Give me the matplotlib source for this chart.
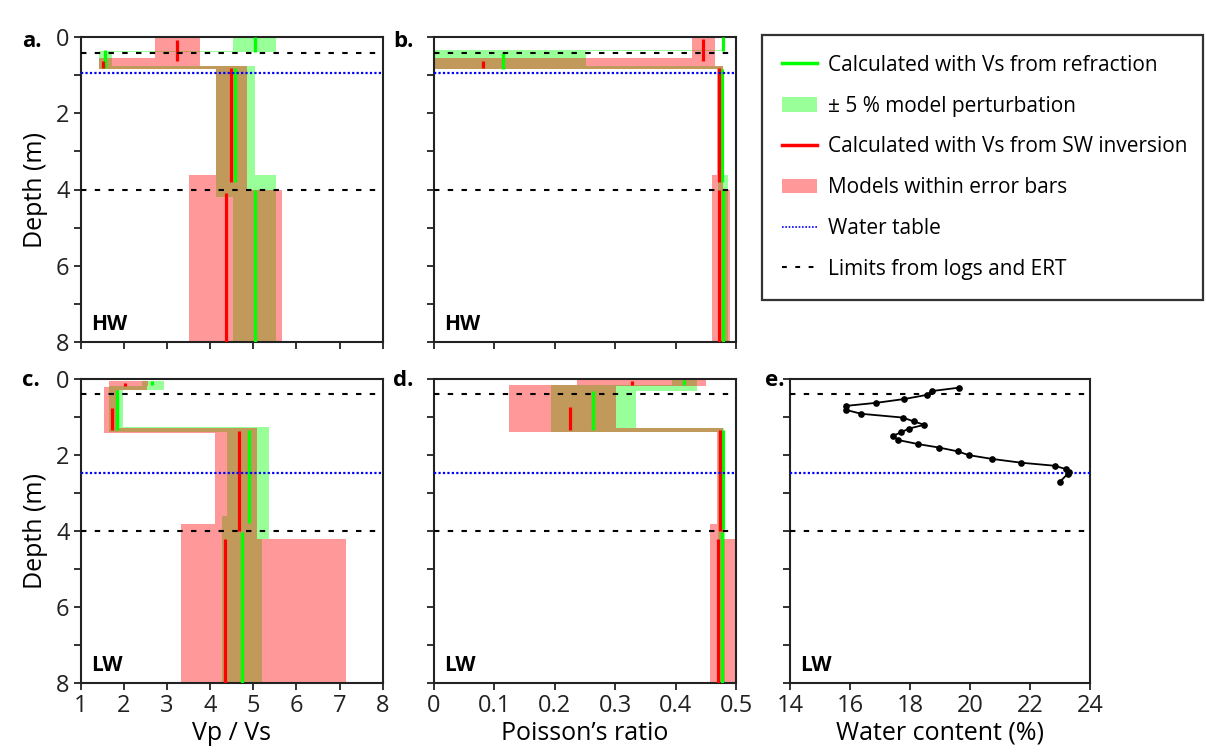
import matplotlib
matplotlib.use("Agg")
import matplotlib.pyplot as plt
from matplotlib.lines import Line2D
from matplotlib.patches import Patch

plt.rcParams['font.family'] = ['Open Sans', 'DejaVu Sans']

GREEN = '#00ff00'
RED = '#ff0000'

# ---------------- data ----------------
# bands: (top depth, bottom depth, min value, max value)
a_green_band = [(0.0, 0.36, 4.54, 5.53), (0.36, 0.38, 1.43, 5.53), (0.38, 0.75, 1.43, 1.72),
                (0.75, 0.84, 1.43, 5.03), (0.84, 3.62, 4.13, 5.03), (3.62, 4.19, 4.13, 5.53),
                (4.19, 8.0, 4.54, 5.53)]
a_red_band = [(0.0, 0.54, 2.72, 3.77), (0.54, 0.75, 1.42, 3.77), (0.75, 0.84, 1.42, 4.85),
              (0.84, 3.62, 4.13, 4.85), (3.62, 4.0, 3.52, 4.85), (4.0, 8.0, 3.52, 5.66)]
# lines: (value, top depth, bottom depth)
a_green_lines = [(5.03, 0.0, 0.38), (1.57, 0.34, 0.80), (4.58, 0.81, 3.81), (5.03, 4.0, 8.0)]
a_red_lines = [(3.23, 0.07, 0.61), (1.52, 0.62, 0.80), (4.49, 0.815, 3.81), (4.36, 4.08, 8.0)]

b_green_band = [(0.33, 0.36, 0.0, 0.48), (0.36, 0.76, 0.0, 0.251), (0.76, 0.84, 0.0, 0.478),
                (0.84, 3.62, 0.470, 0.480), (3.62, 4.19, 0.470, 0.486), (4.19, 8.0, 0.475, 0.486)]
b_red_band = [(0.0, 0.54, 0.4266, 0.465), (0.54, 0.76, 0.0, 0.465), (0.76, 0.84, 0.0, 0.478),
              (0.84, 3.62, 0.469, 0.478), (3.62, 4.0, 0.460, 0.478), (4.0, 8.0, 0.460, 0.490)]
b_green_lines = [(0.479, 0.0, 0.35), (0.1137, 0.40, 0.825), (0.4775, 0.82, 3.81), (0.479, 4.0, 8.0)]
b_red_lines = [(0.445, 0.05, 0.61), (0.0817, 0.62, 0.80), (0.4724, 0.815, 3.81), (0.4715, 4.0, 8.0)]

c_green_band = [(0.035, 0.17, 2.43, 2.93), (0.17, 0.28, 1.65, 2.93), (0.28, 1.25, 1.65, 1.98),
                (1.25, 1.40, 1.65, 5.37), (1.40, 3.60, 4.38, 5.37), (3.60, 4.21, 4.27, 5.37),
                (4.21, 8.0, 4.27, 5.20)]
c_red_band = [(0.035, 0.17, 1.66, 2.55), (0.17, 0.19, 1.65, 2.54), (0.19, 0.28, 1.54, 2.54),
              (0.28, 1.29, 1.54, 1.88), (1.29, 1.42, 1.54, 5.08), (1.42, 3.82, 4.12, 5.08),
              (3.82, 4.21, 3.33, 5.08), (4.21, 8.0, 3.33, 7.14)]
c_green_lines = [(2.66, 0.035, 0.15), (1.83, 0.28, 1.34), (4.89, 1.34, 3.80), (4.73, 4.02, 8.0)]
c_red_lines = [(2.03, 0.09, 0.176), (1.73, 0.75, 1.34), (4.66, 1.36, 4.0), (4.34, 4.22, 8.0)]

d_green_band = [(0.02, 0.15, 0.3946, 0.435), (0.15, 0.30, 0.194, 0.435), (0.30, 1.28, 0.194, 0.334),
                (1.28, 1.40, 0.194, 0.480), (1.40, 8.0, 0.470, 0.482)]
d_red_band = [(0.02, 0.15, 0.236, 0.450), (0.15, 0.17, 0.124, 0.450), (0.17, 1.28, 0.124, 0.302),
              (1.28, 1.40, 0.124, 0.479), (1.40, 3.82, 0.468, 0.478), (3.82, 4.21, 0.457, 0.480),
              (4.21, 8.0, 0.457, 0.500)]
d_green_lines = [(0.4145, 0.02, 0.15), (0.264, 0.30, 1.34), (0.479, 1.34, 3.95), (0.476, 4.02, 8.0)]
d_red_lines = [(0.327, 0.04, 0.15), (0.225, 0.72, 1.34), (0.4735, 1.34, 4.0), (0.4707, 4.22, 8.0)]

e_water = [19.64, 18.73, 18.57, 17.81, 16.88, 15.88, 15.88, 16.38, 17.77, 18.12, 18.48,
           17.96, 17.70, 17.43, 17.60, 18.28, 18.97, 19.59, 19.96, 20.74, 21.71, 22.83,
           23.2, 23.3, 23.25, 23.0]
e_depth = [0.22, 0.31, 0.41, 0.52, 0.62, 0.70, 0.81, 0.91, 1.01, 1.11, 1.20,
           1.30, 1.40, 1.49, 1.60, 1.71, 1.80, 1.90, 2.00, 2.10, 2.20, 2.28,
           2.37, 2.44, 2.50, 2.70]

hw_limits = [0.4, 4.0]
hw_water_table = 0.95
lw_limits = [0.4, 4.0]
lw_water_table = 2.47

vpvs_ticks = [1, 2, 3, 4, 5, 6, 7, 8]
pr_ticks = [0, 0.1, 0.2, 0.3, 0.4, 0.5]
pr_ticklabels = ['0', '0.1', '0.2', '0.3', '0.4', '0.5']
wc_ticks = [14, 16, 18, 20, 22, 24]
depth_major = [0, 2, 4, 6, 8]
depth_minor = [1, 3, 5, 7]

legend_labels = ['Calculated with Vs from refraction', '\u00b1 5 % model perturbation',
                 'Calculated with Vs from SW inversion', 'Models within error bars',
                 'Water table', 'Limits from logs and ERT']

# ---------------- figure ----------------
W, H = 1206, 754
fig = plt.figure(figsize=(W / 100, H / 100), dpi=100)


def px_axes(x0, x1, y0, y1):
    return fig.add_axes([x0 / W, 1 - y1 / H, (x1 - x0) / W, (y1 - y0) / H])


ax_a = px_axes(80.7, 382.7, 37.3, 341.7)
ax_b = px_axes(434, 736, 37.3, 341.7)
ax_c = px_axes(80.7, 382.7, 379.3, 682.7)
ax_d = px_axes(434, 736, 379.3, 682.7)
ax_e = px_axes(790, 1090, 379.3, 682.7)


def band(ax, segs, color):
    runs, cur = [], []
    for s in segs:
        if cur and abs(cur[-1][1] - s[0]) > 1e-9:
            runs.append(cur)
            cur = []
        cur.append(s)
    if cur:
        runs.append(cur)
    for r in runs:
        y, lo, hi = [], [], []
        for t, b, l, h in r:
            y += [t, b]
            lo += [l, l]
            hi += [h, h]
        ax.fill_betweenx(y, lo, hi, color=color, alpha=0.4, linewidth=0)


def lines(ax, segs, color):
    ax.vlines([s[0] for s in segs], [s[1] for s in segs], [s[2] for s in segs],
              colors=color, linewidth=2.3, zorder=3)


def refs(ax, limits, wt):
    for l in limits:
        ax.axhline(l, color='black', linewidth=1.5, linestyle=(0, (2.6, 4.0)), zorder=4)
    ax.axhline(wt, color='#0000ff', linewidth=1.6, linestyle=(0, (1, 1.0)), zorder=4)


def style(ax, xlim, xticks, xticklabels=None, bottom=False, left=False, tag='HW'):
    ax.set_xlim(*xlim)
    ax.set_ylim(8, 0)
    ax.set_xticks(xticks)
    if xticklabels is not None:
        ax.set_xticklabels(xticklabels)
    ax.set_yticks(depth_major)
    ax.set_yticks(depth_minor, minor=True)
    ax.tick_params(axis='both', which='both', direction='out', length=5, width=1.3,
                   labelsize=17, top=False, right=False, colors='#222222', pad=3)
    ax.tick_params(axis='x', labelbottom=bottom)
    ax.tick_params(axis='y', labelleft=left)
    for sp in ax.spines.values():
        sp.set_linewidth(1.5)
        sp.set_color('#222222')
    ax.text(0.035, 0.022, tag, transform=ax.transAxes, fontsize=15, fontweight='bold',
            ha='left', va='bottom', family=['Open Sans', 'DejaVu Sans'])


for ax, gb, rb, gl, rl in [(ax_a, a_green_band, a_red_band, a_green_lines, a_red_lines),
                           (ax_b, b_green_band, b_red_band, b_green_lines, b_red_lines),
                           (ax_c, c_green_band, c_red_band, c_green_lines, c_red_lines),
                           (ax_d, d_green_band, d_red_band, d_green_lines, d_red_lines)]:
    band(ax, gb, GREEN)
    band(ax, rb, RED)
    lines(ax, gl, GREEN)
    lines(ax, rl, RED)

refs(ax_a, hw_limits, hw_water_table)
refs(ax_b, hw_limits, hw_water_table)
refs(ax_c, lw_limits, lw_water_table)
refs(ax_d, lw_limits, lw_water_table)
refs(ax_e, lw_limits, lw_water_table)

ax_e.plot(e_water, e_depth, color='black', linewidth=1.3, marker='o', markersize=3.8, zorder=5,
          clip_on=False)

style(ax_a, (1, 8), vpvs_ticks, left=True, tag='HW')
style(ax_b, (0, 0.5), pr_ticks, tag='HW')
style(ax_c, (1, 8), vpvs_ticks, bottom=True, left=True, tag='LW')
style(ax_d, (0, 0.5), pr_ticks, pr_ticklabels, bottom=True, tag='LW')
style(ax_e, (14, 24), wc_ticks, bottom=True, tag='LW')

ax_a.set_ylabel('Depth (m)', fontsize=18, labelpad=6)
ax_c.set_ylabel('Depth (m)', fontsize=18, labelpad=6)
ax_c.set_xlabel('Vp / Vs', fontsize=18, labelpad=2)
ax_d.set_xlabel('Poisson\u2019s ratio', fontsize=18, labelpad=2)
ax_e.set_xlabel('Water content (%)', fontsize=18, labelpad=2)

for ax, letter, xf, yf in [(ax_a, 'a.', -0.194, 0.985), (ax_b, 'b.', -0.136, 0.985),
                           (ax_c, 'c.', -0.194, 0.995), (ax_d, 'd.', -0.136, 0.995),
                           (ax_e, 'e.', -0.083, 0.995)]:
    ax.text(xf, yf, letter, transform=ax.transAxes, fontsize=16, fontweight='bold',
            ha='left', va='center')

handles = [Line2D([], [], color=GREEN, linewidth=2.5),
           Patch(facecolor=GREEN, alpha=0.4, linewidth=0),
           Line2D([], [], color=RED, linewidth=2.5),
           Patch(facecolor=RED, alpha=0.4, linewidth=0),
           Line2D([], [], color='#0000ff', linewidth=1.2, linestyle=(0, (1, 1))),
           Line2D([], [], color='black', linewidth=1.5, linestyle=(0, (2.3, 4.1)))]
leg = fig.legend(handles, legend_labels, loc='upper left',
                 bbox_to_anchor=(762 / W, 1 - 296 / H, 441 / W, 261 / H), mode='expand',
                 borderaxespad=0, fancybox=False, framealpha=1, edgecolor='#333333',
                 fontsize=15, handlelength=1.7, handletextpad=0.5, labelspacing=0.95,
                 borderpad=0.95)
leg.get_frame().set_linewidth(1.6)

fig.savefig('out.png', dpi=100)
